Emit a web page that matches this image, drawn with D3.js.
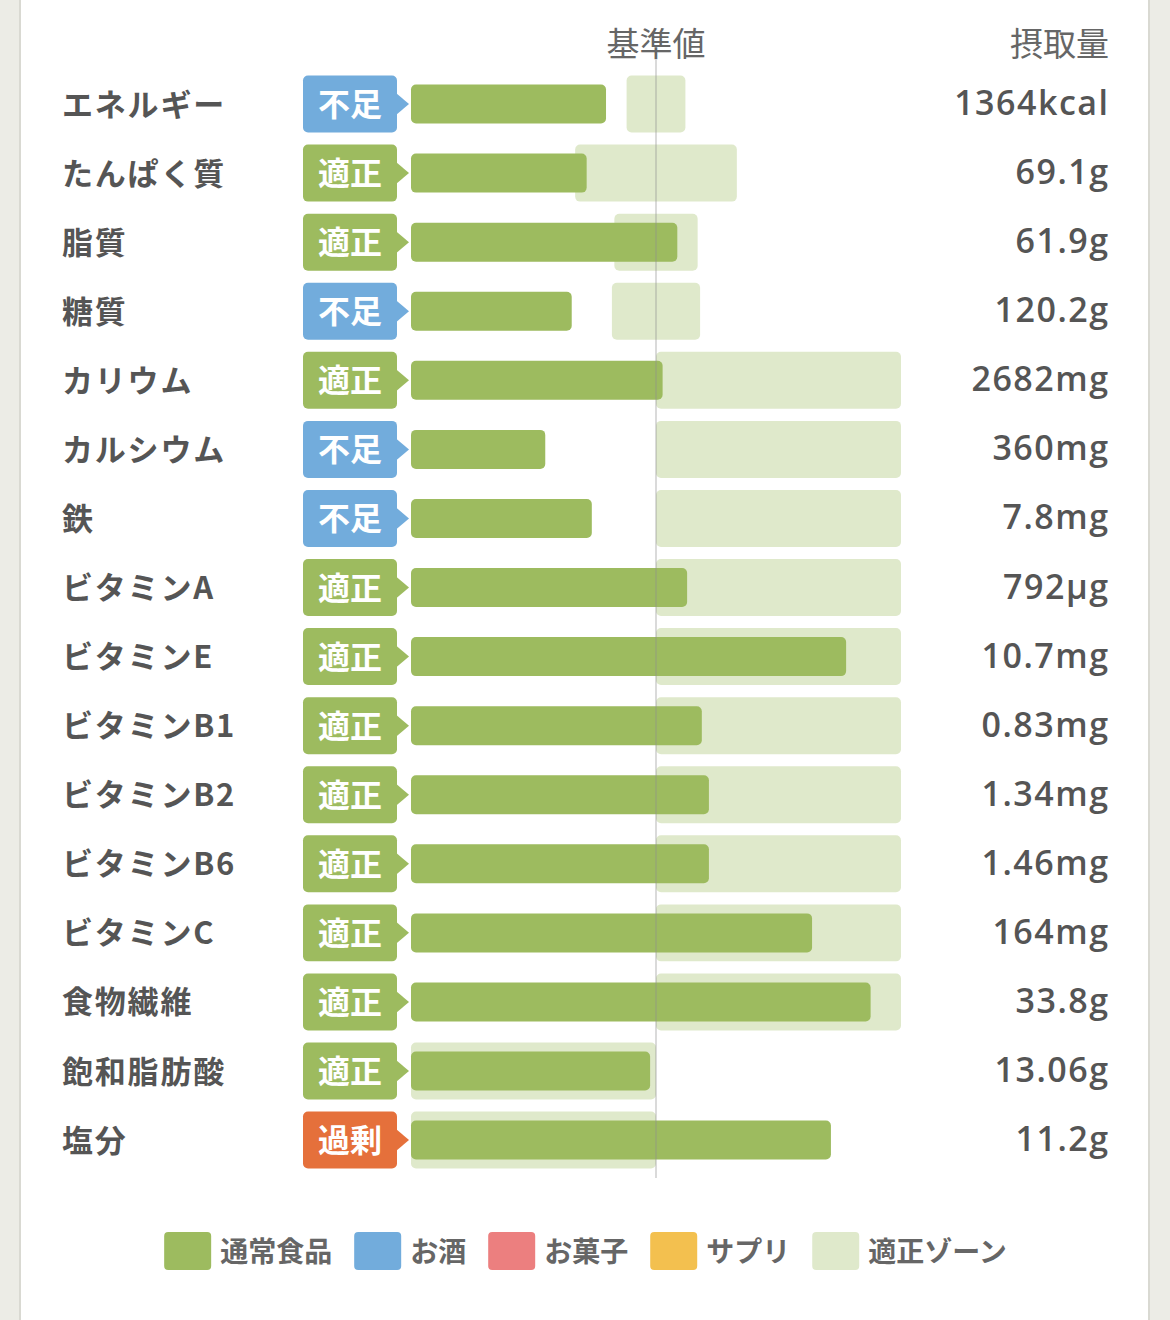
<!DOCTYPE html>
<html lang="ja">
<head>
<meta charset="utf-8">
<script src="https://cdn.jsdelivr.net/npm/d3@7"></script>
<style>
  html, body { margin: 0; padding: 0; background: #ecece6; }
  svg { display: block; }
</style>
</head>
<body>
<svg id="chart" width="1170" height="1320"></svg>
<script>
// ---------- data ----------
const nutrients = ["エネルギー","たんぱく質","脂質","糖質","カリウム","カルシウム","鉄","ビタミンA","ビタミンE","ビタミンB1","ビタミンB2","ビタミンB6","ビタミンC","食物繊維","飽和脂肪酸","塩分"];
const statuses = ["不足","適正","適正","不足","適正","不足","不足","適正","適正","適正","適正","適正","適正","適正","適正","過剰"];
const intakeLabels = ["1364kcal","69.1g","61.9g","120.2g","2682mg","360mg","7.8mg","792µg","10.7mg","0.83mg","1.34mg","1.46mg","164mg","33.8g","13.06g","11.2g"];
// intake as % of the standard value (基準値 = 100)
const intakePercent = [79.6,71.7,108.7,65.6,102.7,54.8,73.8,112.7,177.6,118.7,121.6,121.6,163.7,187.6,97.6,171.4];
// appropriate zone (適正ゾーン) bounds, % of standard
const zoneLow  = [88,67,83,82,100,100,100,100,100,100,100,100,100,100,0,0];
const zoneHigh = [112,133,117,118,200,200,200,200,200,200,200,200,200,200,100,100];
const axisDomain = [0, 200];
const standardValue = 100;
const headerLabels = ["基準値","摂取量"];
const legendLabels = ["通常食品","お酒","お菓子","サプリ","適正ゾーン"];

// ---------- styles ----------
const colors = {
  food: "#9dbb5f", zone: "#dfe9cb",
  legend: ["#9dbb5f","#72acdc","#ec7f7f","#f3c04f","#dfe9cb"],
  status: { "不足": "#72acdc", "適正": "#9dbb5f", "過剰": "#e5703b" },
  text: "#555", header: "#666"
};
const jp = "'Noto Sans CJK JP', 'Noto Sans', sans-serif";
const num = "'Open Sans', 'Noto Sans', 'Noto Sans CJK JP', sans-serif";

const svg = d3.select("#chart");

// page card
svg.append("rect").attr("x", 0).attr("y", 0).attr("width", 1170).attr("height", 1320).attr("fill", "#ecece6");
svg.append("rect").attr("x", 19).attr("y", 0).attr("width", 1131).attr("height", 1320).attr("fill", "#d9d9d2");
svg.append("rect").attr("x", 21).attr("y", 0).attr("width", 1127).attr("height", 1320).attr("fill", "#ffffff");

// scales
const x = d3.scaleLinear().domain(axisDomain).range([411, 901]);
const step = 69.07;
const y = d3.scaleBand().domain(nutrients)
  .range([69.5, 69.5 + step * nutrients.length])
  .paddingInner(0.175).paddingOuter(0.0875);
const bw = y.bandwidth();
const barH = 39;
const textDy = -2;

const rows = nutrients.map((n, i) => ({
  name: n, status: statuses[i], label: intakeLabels[i],
  v: intakePercent[i], lo: zoneLow[i], hi: zoneHigh[i]
}));

// headers
svg.append("text").attr("x", x(standardValue)).attr("y", 42)
  .attr("text-anchor", "middle").attr("dominant-baseline", "central")
  .attr("font-family", jp).attr("font-size", 33).attr("fill", colors.header)
  .text(headerLabels[0]);
svg.append("text").attr("x", 1109).attr("y", 42)
  .attr("text-anchor", "end").attr("dominant-baseline", "central")
  .attr("font-family", jp).attr("font-size", 33).attr("fill", colors.header)
  .text(headerLabels[1]);

// zones
svg.append("g").selectAll("rect").data(rows).join("rect")
  .attr("x", d => x(d.lo)).attr("y", d => y(d.name))
  .attr("width", d => x(d.hi) - x(d.lo)).attr("height", bw)
  .attr("rx", 5).attr("fill", colors.zone);

// intake bars
svg.append("g").selectAll("rect").data(rows).join("rect")
  .attr("x", x(0)).attr("y", d => y(d.name) + (bw - barH) / 2)
  .attr("width", d => x(d.v) - x(0)).attr("height", barH)
  .attr("rx", 5).attr("fill", colors.food);

// standard line
svg.append("line")
  .attr("x1", x(standardValue)).attr("x2", x(standardValue))
  .attr("y1", 60).attr("y2", 1178)
  .attr("stroke", "#8f8f8f").attr("stroke-opacity", 0.65).attr("stroke-width", 1);

// badges
const badgeL = 303, badgeR = 397, tip = 409, half = 11;
const badges = svg.append("g").selectAll("g").data(rows).join("g")
  .attr("transform", d => `translate(0,${y(d.name)})`);
badges.append("rect").attr("x", badgeL).attr("y", 0)
  .attr("width", badgeR - badgeL).attr("height", bw).attr("rx", 5)
  .attr("fill", d => colors.status[d.status]);
badges.append("path")
  .attr("d", `M${badgeR - 1},${bw / 2 - half} L${tip},${bw / 2} L${badgeR - 1},${bw / 2 + half} Z`)
  .attr("fill", d => colors.status[d.status]);
badges.append("text").attr("x", (badgeL + badgeR) / 2).attr("y", bw / 2 + textDy)
  .attr("text-anchor", "middle").attr("dominant-baseline", "central")
  .attr("font-family", jp).attr("font-weight", 700).attr("font-size", 32)
  .attr("fill", "#fff").text(d => d.status);

// nutrient names
svg.append("g").selectAll("text").data(rows).join("text")
  .attr("x", 62).attr("y", d => y(d.name) + bw / 2 + textDy)
  .attr("dominant-baseline", "central")
  .attr("font-family", jp).attr("font-weight", 700).attr("font-size", 31)
  .attr("letter-spacing", 1.8)
  .attr("fill", colors.text).text(d => d.name);

// intake values
svg.append("g").selectAll("text").data(rows).join("text")
  .attr("x", 1108 + 1.5).attr("y", d => y(d.name) + bw / 2 + textDy)
  .attr("text-anchor", "end").attr("dominant-baseline", "central")
  .attr("font-family", num).attr("font-weight", 600).attr("font-size", 34)
  .attr("letter-spacing", 1.5)
  .attr("fill", colors.text).text(d => d.label);

// legend
const lg = svg.append("g");
const items = lg.selectAll("g").data(legendLabels).join("g");
items.append("rect").attr("x", 0).attr("y", 0).attr("width", 47).attr("height", 38)
  .attr("rx", 4).attr("fill", (d, i) => colors.legend[i]);
items.append("text").attr("x", 56).attr("y", 18)
  .attr("dominant-baseline", "central")
  .attr("font-family", jp).attr("font-weight", 700).attr("font-size", 28)
  .attr("fill", "#666").text(d => d);
let cx = 0;
const gap = 22;
items.each(function () {
  const w = 56 + d3.select(this).select("text").node().getComputedTextLength();
  d3.select(this).attr("transform", `translate(${cx},0)`);
  cx += w + gap;
});
const total = cx - gap;
lg.attr("transform", `translate(${585.5 - total / 2},1232)`);
</script>
</body>
</html>
